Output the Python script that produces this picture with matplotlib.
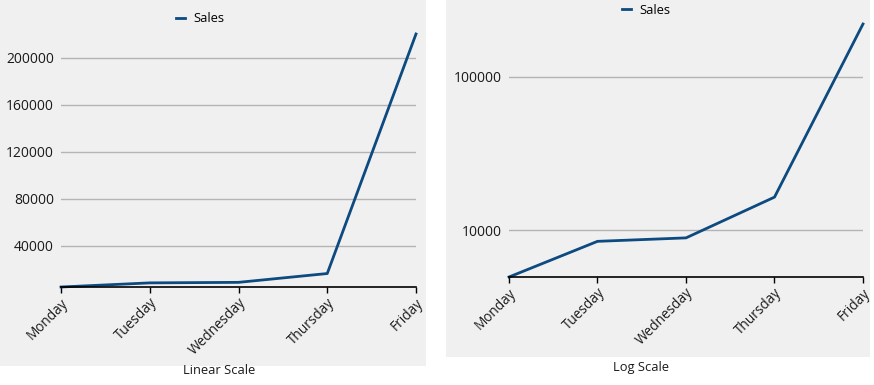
import matplotlib
matplotlib.use("Agg")
import matplotlib.pyplot as plt
from matplotlib.patches import Rectangle

plt.rcParams["font.family"] = ["Open Sans", "DejaVu Sans"]

days = ["Monday", "Tuesday", "Wednesday", "Thursday", "Friday"]
sales = [4950, 8450, 8900, 16400, 220000]
linear_ticks = [40000, 80000, 120000, 160000, 200000]
log_ticks = [10000, 100000]

BG = "#f0f0f0"
LINE = "#0c4a7f"
GRID = "#b4b4b4"
TEXT = "#1a1a1a"

W, H = 874, 385


def fx(px):
    return px / W


def fy(py):
    return 1 - py / H


def style_axes(ax):
    ax.set_facecolor(BG)
    for side in ("top", "right", "left"):
        ax.spines[side].set_visible(False)
    ax.spines["bottom"].set_color("black")
    ax.spines["bottom"].set_linewidth(1.2)
    ax.tick_params(axis="y", length=0, labelsize=10, colors=TEXT, pad=5)
    ax.tick_params(axis="x", length=4, width=1, color="black", labelsize=9.8, labelcolor=TEXT, pad=2)
    ax.yaxis.grid(True, color=GRID, linewidth=1)
    ax.set_axisbelow(True)
    ax.set_xlim(0, len(days) - 1)
    ax.set_xticks(range(len(days)))
    ax.set_xticklabels(days, rotation=45, ha="right", va="top", rotation_mode="anchor")


fig = plt.figure(figsize=(W / 100, H / 100), dpi=100)
fig.patch.set_facecolor("white")

# grey panels behind each chart
fig.add_artist(Rectangle((0, fy(366)), fx(426), 366 / H, transform=fig.transFigure,
                         facecolor=BG, edgecolor="none", zorder=0))
fig.add_artist(Rectangle((fx(446), fy(357)), fx(424), 357 / H, transform=fig.transFigure,
                         facecolor=BG, edgecolor="none", zorder=0))

ax1 = fig.add_axes([fx(61), fy(287), fx(355), 253 / H])
style_axes(ax1)
ax1.plot(range(len(days)), sales, color=LINE, linewidth=2, label="Sales", clip_on=False)
ax1.set_ylim(sales[0], sales[-1])
ax1.set_yticks(linear_ticks)
ax1.set_yticklabels([str(t) for t in linear_ticks])
ax1.legend(loc="center", bbox_to_anchor=(fx(200), fy(19)), bbox_transform=fig.transFigure,
           frameon=False, handlelength=0.75, fontsize=9.3, handletextpad=0.6)

ax2 = fig.add_axes([fx(509), fy(277), fx(354), 253 / H])
style_axes(ax2)
ax2.plot(range(len(days)), sales, color=LINE, linewidth=2, label="Sales", clip_on=False)
ax2.set_yscale("log")
ax2.set_ylim(sales[0], sales[-1])
ax2.set_yticks(log_ticks)
ax2.set_yticklabels([str(t) for t in log_ticks])
ax2.minorticks_off()
ax2.yaxis.grid(True, which="major", color=GRID, linewidth=1)
ax2.legend(loc="center", bbox_to_anchor=(fx(646), fy(10)), bbox_transform=fig.transFigure,
           frameon=False, handlelength=0.75, fontsize=9.3, handletextpad=0.6)

fig.text(fx(219), fy(371), "Linear Scale", ha="center", va="center", fontsize=9.3, color=TEXT)
fig.text(fx(641), fy(368), "Log Scale", ha="center", va="center", fontsize=9.3, color=TEXT)

fig.savefig("out.png", dpi=100, facecolor=fig.get_facecolor())
